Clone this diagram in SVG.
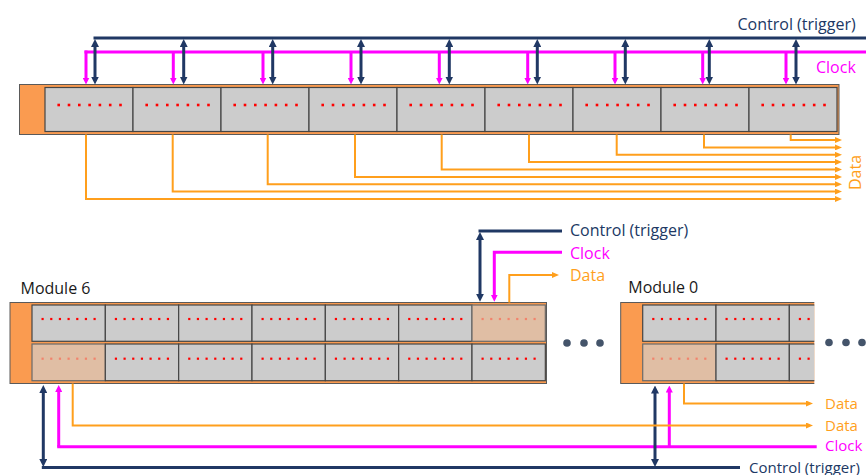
<svg xmlns="http://www.w3.org/2000/svg" xmlns:xlink="http://www.w3.org/1999/xlink" width="866" height="475" viewBox="0 0 866 475">
<style>
.mod{fill:#FA9B50;stroke:#5a5a5a;stroke-width:1}
.cell{fill:#CCCCCC;stroke:#454545;stroke-width:1.2}
.hl{fill:#E0BEA4;stroke:#6a6a6a;stroke-width:1.2}
.ctl{fill:none;stroke:#203864;stroke-width:3}
.clk{fill:none;stroke:#FF00FF;stroke-width:3}
.dat{fill:none;stroke:#FF9F1C;stroke-width:2}
.lbl{font-family:"Open Sans","Liberation Sans",sans-serif;font-size:16px}
.sm{font-size:15px}
.tctl{fill:#203864}.tclk{fill:#FF00FF}.tdat{fill:#FF9F1C}.tmod{fill:#1a1a1a}
.ell{fill:#44546A}
</style>
<defs>
<marker id="aN" markerUnits="userSpaceOnUse" markerWidth="8" markerHeight="8" refX="4" refY="4" orient="auto-start-reverse"><path d="M0,0 L8,4 L0,8 z" fill="#203864"/></marker>
<marker id="aM" markerUnits="userSpaceOnUse" markerWidth="7" markerHeight="7" refX="3" refY="3.5" orient="auto-start-reverse"><path d="M0,0 L7,3.5 L0,7 z" fill="#FF00FF"/></marker>
<marker id="aO" markerUnits="userSpaceOnUse" markerWidth="7" markerHeight="6" refX="3" refY="3" orient="auto"><path d="M0,0 L7,3 L0,6 z" fill="#FF9F1C"/></marker>
<g id="d8"><rect x="12.4" y="-1.3" width="2.6" height="2.6"/><rect x="22.7" y="-1.3" width="2.6" height="2.6"/><rect x="33" y="-1.3" width="2.6" height="2.6"/><rect x="43.3" y="-1.3" width="2.6" height="2.6"/><rect x="53.6" y="-1.3" width="2.6" height="2.6"/><rect x="63.9" y="-1.3" width="2.6" height="2.6"/><rect x="74.2" y="-1.3" width="2.6" height="2.6"/></g>
<g id="d7"><rect x="9.5" y="-1.1" width="2.2" height="2.2"/><rect x="18.17" y="-1.1" width="2.2" height="2.2"/><rect x="26.83" y="-1.1" width="2.2" height="2.2"/><rect x="35.5" y="-1.1" width="2.2" height="2.2"/><rect x="44.17" y="-1.1" width="2.2" height="2.2"/><rect x="52.83" y="-1.1" width="2.2" height="2.2"/><rect x="61.5" y="-1.1" width="2.2" height="2.2"/></g>
<clipPath id="clip0"><rect x="600" y="290" width="214.3" height="100"/></clipPath>
</defs>

<g id="top-module">
<rect class="mod" x="19.5" y="84.5" width="819.5" height="50"/>
<rect class="cell" x="45" y="87.5" width="88" height="44"/>
<rect class="cell" x="133" y="87.5" width="88" height="44"/>
<rect class="cell" x="221" y="87.5" width="88" height="44"/>
<rect class="cell" x="309" y="87.5" width="88" height="44"/>
<rect class="cell" x="397" y="87.5" width="88" height="44"/>
<rect class="cell" x="485" y="87.5" width="88" height="44"/>
<rect class="cell" x="573" y="87.5" width="88" height="44"/>
<rect class="cell" x="661" y="87.5" width="88" height="44"/>
<rect class="cell" x="749" y="87.5" width="88" height="44"/>
<g fill="#FF0000">
<use xlink:href="#d8" x="45" y="105"/><use xlink:href="#d8" x="133" y="105"/><use xlink:href="#d8" x="221" y="105"/><use xlink:href="#d8" x="309" y="105"/><use xlink:href="#d8" x="397" y="105"/><use xlink:href="#d8" x="485" y="105"/><use xlink:href="#d8" x="573" y="105"/><use xlink:href="#d8" x="661" y="105"/><use xlink:href="#d8" x="749" y="105"/>
</g>
</g>

<g id="module-6">
<rect class="mod" x="10" y="302.5" width="536.5" height="81"/>
<rect class="cell" x="32" y="305" width="73.33" height="36.3"/>
<rect class="cell" x="105.33" y="305" width="73.33" height="36.3"/>
<rect class="cell" x="178.67" y="305" width="73.33" height="36.3"/>
<rect class="cell" x="252" y="305" width="73.33" height="36.3"/>
<rect class="cell" x="325.33" y="305" width="73.33" height="36.3"/>
<rect class="cell" x="398.67" y="305" width="73.33" height="36.3"/>
<rect class="hl" x="472" y="305" width="73.33" height="36.3"/>
<rect class="hl" x="32" y="344" width="73.33" height="36.7"/>
<rect class="cell" x="105.33" y="344" width="73.33" height="36.7"/>
<rect class="cell" x="178.67" y="344" width="73.33" height="36.7"/>
<rect class="cell" x="252" y="344" width="73.33" height="36.7"/>
<rect class="cell" x="325.33" y="344" width="73.33" height="36.7"/>
<rect class="cell" x="398.67" y="344" width="73.33" height="36.7"/>
<rect class="cell" x="472" y="344" width="73.33" height="36.7"/>
<g fill="#FF0000">
<use xlink:href="#d7" x="32" y="319"/><use xlink:href="#d7" x="105.33" y="319"/><use xlink:href="#d7" x="178.67" y="319"/><use xlink:href="#d7" x="252" y="319"/><use xlink:href="#d7" x="325.33" y="319"/><use xlink:href="#d7" x="398.67" y="319"/>
<use xlink:href="#d7" x="105.33" y="358.7"/><use xlink:href="#d7" x="178.67" y="358.7"/><use xlink:href="#d7" x="252" y="358.7"/><use xlink:href="#d7" x="325.33" y="358.7"/><use xlink:href="#d7" x="398.67" y="358.7"/><use xlink:href="#d7" x="472" y="358.7"/>
</g>
<g fill="#F2836C">
<use xlink:href="#d7" x="472" y="319"/><use xlink:href="#d7" x="32" y="358.7"/>
</g>
<text class="lbl tmod" x="20.5" y="294">Module 6</text>
</g>

<g id="module-0">
<g clip-path="url(#clip0)">
<rect class="mod" x="620.7" y="302.5" width="220" height="81"/>
<rect class="cell" x="642.7" y="305" width="73.33" height="36.3"/>
<rect class="cell" x="716" y="305" width="73.33" height="36.3"/>
<rect class="cell" x="789.33" y="305" width="73.33" height="36.3"/>
<rect class="hl" x="642.7" y="344" width="73.33" height="36.7"/>
<rect class="cell" x="716" y="344" width="73.33" height="36.7"/>
<rect class="cell" x="789.33" y="344" width="73.33" height="36.7"/>
<g fill="#FF0000">
<use xlink:href="#d7" x="642.7" y="319"/><use xlink:href="#d7" x="716" y="319"/><use xlink:href="#d7" x="789.33" y="319"/>
<use xlink:href="#d7" x="716" y="358.7"/><use xlink:href="#d7" x="789.33" y="358.7"/>
</g>
<g fill="#F2836C"><use xlink:href="#d7" x="642.7" y="358.7"/></g>
</g>
<text class="lbl tmod" x="628.3" y="293">Module 0</text>
</g>

<g id="ellipsis">
<circle class="ell" cx="567" cy="343" r="3.8"/><circle class="ell" cx="584" cy="343" r="3.8"/><circle class="ell" cx="600" cy="343" r="3.8"/>
<circle class="ell" cx="829" cy="342.5" r="3.8"/><circle class="ell" cx="846" cy="342.5" r="3.8"/><circle class="ell" cx="862" cy="342.5" r="3.8"/>
</g>

<g id="connectors">
<path class="ctl" d="M93.5,38 H866"/>
<path class="clk" d="M84.5,52 H866"/>
<g class="ctl" marker-start="url(#aN)" marker-end="url(#aN)">
<path d="M95,43 V80.5"/><path d="M183.7,43 V80.5"/><path d="M272.7,43 V80.5"/><path d="M361,43 V80.5"/><path d="M449.3,43 V80.5"/><path d="M537.3,43 V80.5"/><path d="M625.3,43 V80.5"/><path d="M709.3,43 V80.5"/><path d="M796,43 V80.5"/>
</g>
<g class="clk" marker-end="url(#aM)">
<path d="M86,50.5 V80.5"/><path d="M173.3,52 V80.5"/><path d="M263,52 V80.5"/><path d="M351,52 V80.5"/><path d="M439.3,52 V80.5"/><path d="M527.7,52 V80.5"/><path d="M615,52 V80.5"/><path d="M702.7,52 V80.5"/><path d="M786,52 V80.5"/>
</g>
<g class="dat" marker-end="url(#aO)">
<path d="M86,134.5 V199 H838"/>
<path d="M172.7,134.5 V191.6 H838"/>
<path d="M267.7,134.5 V184.3 H838"/>
<path d="M355,134.5 V176.9 H838"/>
<path d="M441.7,134.5 V169.5 H838"/>
<path d="M529,134.5 V162.1 H838"/>
<path d="M616.7,134.5 V154.8 H838"/>
<path d="M704,134.5 V147.4 H838"/>
<path d="M790.7,134.5 V140 H838"/>
</g>
<path class="ctl" d="M562,231 H478.5"/>
<path class="ctl" d="M480,236 V297.7" marker-start="url(#aN)" marker-end="url(#aN)"/>
<path class="clk" d="M562,252.3 H494.3 V297.7" marker-end="url(#aM)"/>
<path class="dat" d="M509.3,302.5 V275 H555" marker-end="url(#aO)"/>
<path class="ctl" d="M41.8,467.5 H740"/>
<path class="clk" d="M57.2,446.7 H816.7"/>
<path class="ctl" d="M43.3,389 V463" marker-start="url(#aN)" marker-end="url(#aN)"/>
<path class="ctl" d="M655,389.5 V463" marker-start="url(#aN)" marker-end="url(#aN)"/>
<path class="clk" d="M58.7,446.7 V389" marker-end="url(#aM)"/>
<path class="clk" d="M669.3,446.7 V389.5" marker-end="url(#aM)"/>
<path class="dat" d="M72.7,383.5 V425.5 H809" marker-end="url(#aO)"/>
<path class="dat" d="M684,383.5 V403.5 H809" marker-end="url(#aO)"/>
</g>

<g id="labels">
<text class="lbl tctl" x="737.5" y="30">Control (trigger)</text>
<text class="lbl tclk" x="816" y="73">Clock</text>
<text class="lbl tdat" transform="translate(861,172.5) rotate(-90)" text-anchor="middle">Data</text>
<text class="lbl tctl" x="570" y="236">Control (trigger)</text>
<text class="lbl tclk" x="570" y="259">Clock</text>
<text class="lbl tdat" x="570" y="281">Data</text>
<text class="lbl sm tdat" x="825" y="409">Data</text>
<text class="lbl sm tdat" x="825" y="430.5">Data</text>
<text class="lbl sm tclk" x="825" y="451">Clock</text>
<text class="lbl sm tctl" x="749" y="472.5">Control (trigger)</text>
</g>
</svg>
